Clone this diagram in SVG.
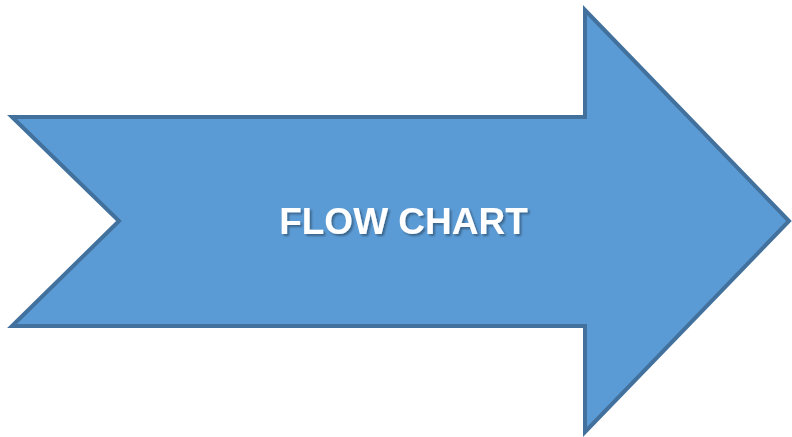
<svg xmlns="http://www.w3.org/2000/svg" width="792" height="437" viewBox="0 0 792 437">
<defs>
<filter id="shadow" x="-10%" y="-30%" width="120%" height="160%">
<feDropShadow dx="2" dy="2" stdDeviation="1" flood-color="#000000" flood-opacity="0.35"/>
</filter>
</defs>
<style>
.arrow{fill:#5B9BD5;stroke:#41719C;stroke-width:4;stroke-linejoin:miter}
.lbl{font-family:"Liberation Sans",Arial,sans-serif;font-weight:bold;font-size:37px;text-anchor:middle;fill:#FFFFFF}
</style>
<rect width="792" height="437" fill="#FFFFFF"/>
<g id="flow-arrow">
<path class="arrow" d="M12,117 L585,117 L585,10 L789,221 L585,432 L585,326 L12,326 L119,221 Z"/>
<text class="lbl" x="403.5" y="234" filter="url(#shadow)">FLOW CHART</text>
</g>
</svg>
